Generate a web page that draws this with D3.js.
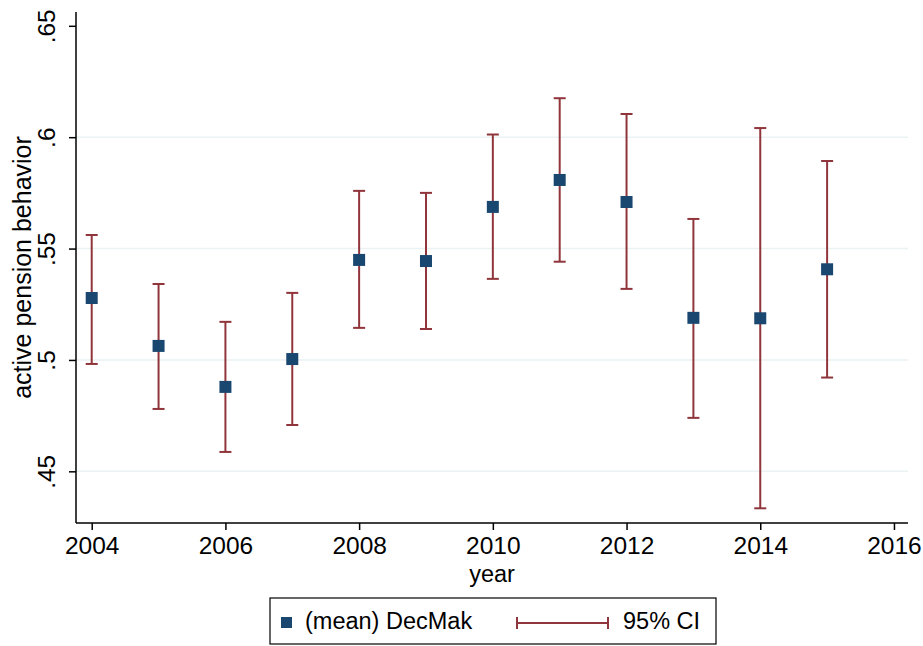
<!DOCTYPE html>
<html>
<head>
<meta charset="utf-8">
<script src="https://cdn.jsdelivr.net/npm/d3@7"></script>
<style>
  body { margin: 0; background: #fff; }
  text { font-family: "Liberation Sans", Arial, Helvetica, sans-serif; fill: #000; }
</style>
</head>
<body>
<script>
'use strict';

// data
const years = [2004, 2005, 2006, 2007, 2008, 2009, 2010, 2011, 2012, 2013, 2014, 2015];
const means = [0.5278, 0.5063, 0.4879, 0.5004, 0.5449, 0.5444, 0.5687, 0.5808, 0.5709, 0.5189, 0.5187, 0.5407];
const upper = [0.5561, 0.5341, 0.5171, 0.5301, 0.5759, 0.5750, 0.6012, 0.6175, 0.6104, 0.5633, 0.6041, 0.5893];
const lower = [0.4982, 0.4780, 0.4587, 0.4708, 0.5144, 0.5139, 0.5364, 0.5441, 0.5319, 0.4740, 0.4334, 0.4921];
const xTicks = [2004, 2006, 2008, 2010, 2012, 2014, 2016];
const yTicks = [0.45, 0.5, 0.55, 0.6, 0.65];

(function() {
    const W = 923, H = 646;
    const plot = { left: 76, right: 908, top: 12, bottom: 523 };
    const navy = '#1a476f', maroon = '#90353b';

    const svg = d3.select('body').append('svg')
        .attr('width', W)
        .attr('height', H);

    const x = d3.scaleLinear()
        .domain([2003.765, 2016.21])
        .range([plot.left, plot.right]);
    const y = d3.scaleLinear()
        .domain([0.4268, 0.6562])
        .range([plot.bottom, plot.top]);

    const rows = years.map((yr, i) => ({ year: yr, mean: means[i], lo: lower[i], hi: upper[i] }));

    // gridlines
    svg.append('g').selectAll('line')
        .data(yTicks.filter(t => t < 0.65))
        .enter().append('line')
        .attr('x1', plot.left).attr('x2', plot.right)
        .attr('y1', d => y(d)).attr('y2', d => y(d))
        .attr('stroke', '#eaf2f3').attr('stroke-width', 1.5);

    // y axis
    const yAxis = d3.axisLeft(y).tickValues(yTicks).tickSize(7)
        .tickFormat(d => d3.format('.2f')(d).replace(/^0/, '').replace(/0$/, ''));
    const gy = svg.append('g')
        .attr('transform', 'translate(' + plot.left + ',0)')
        .call(yAxis);
    gy.select('.domain').attr('d', 'M0,' + plot.top + 'V' + plot.bottom).attr('stroke', '#000').attr('stroke-width', 1.5);
    gy.selectAll('.tick line').attr('stroke', '#000').attr('stroke-width', 1.5);
    gy.selectAll('.tick text')
        .attr('x', null).attr('dy', null)
        .attr('transform', 'translate(-21,0) rotate(-90)')
        .attr('text-anchor', 'middle')
        .style('font-size', '24.5px');

    // x axis
    const xAxis = d3.axisBottom(x).tickValues(xTicks).tickSize(7).tickFormat(d3.format('d'));
    const gx = svg.append('g')
        .attr('transform', 'translate(0,' + plot.bottom + ')')
        .call(xAxis);
    gx.select('.domain').attr('d', 'M' + plot.left + ',0H' + plot.right).attr('stroke', '#000').attr('stroke-width', 1.5);
    gx.selectAll('.tick line').attr('stroke', '#000').attr('stroke-width', 1.5);
    gx.selectAll('.tick text')
        .attr('y', 31).attr('dy', null)
        .style('font-size', '24.5px');

    // axis titles
    svg.append('text')
        .attr('x', (plot.left + plot.right) / 2)
        .attr('y', 582)
        .attr('text-anchor', 'middle')
        .style('font-size', '23.5px')
        .text('year');
    svg.append('text')
        .attr('transform', 'translate(31,' + (plot.top + plot.bottom) / 2 + ') rotate(-90)')
        .attr('text-anchor', 'middle')
        .style('font-size', '25px')
        .text('active pension behavior');

    // CI spikes with caps
    const ci = svg.append('g').attr('stroke', maroon).attr('stroke-width', 2);
    ci.selectAll('.spike')
        .data(rows).enter().append('line')
        .attr('x1', d => x(d.year)).attr('x2', d => x(d.year))
        .attr('y1', d => y(d.lo)).attr('y2', d => y(d.hi));
    ci.selectAll('.caphi')
        .data(rows).enter().append('line')
        .attr('x1', d => x(d.year) - 6).attr('x2', d => x(d.year) + 6)
        .attr('y1', d => y(d.hi)).attr('y2', d => y(d.hi));
    ci.selectAll('.caplo')
        .data(rows).enter().append('line')
        .attr('x1', d => x(d.year) - 6).attr('x2', d => x(d.year) + 6)
        .attr('y1', d => y(d.lo)).attr('y2', d => y(d.lo));

    // mean markers
    svg.append('g').selectAll('rect')
        .data(rows).enter().append('rect')
        .attr('x', d => x(d.year) - 6)
        .attr('y', d => y(d.mean) - 6)
        .attr('width', 12).attr('height', 12)
        .attr('fill', navy);

    // legend
    const lg = svg.append('g');
    lg.append('rect')
        .attr('x', 270).attr('y', 598)
        .attr('width', 446).attr('height', 46)
        .attr('fill', '#fff').attr('stroke', '#000').attr('stroke-width', 1.2);
    lg.append('rect')
        .attr('x', 281).attr('y', 617).attr('width', 11).attr('height', 11)
        .attr('fill', navy);
    lg.append('text')
        .attr('x', 305).attr('y', 629)
        .style('font-size', '23.5px')
        .text('(mean) DecMak');
    lg.append('line')
        .attr('x1', 517).attr('x2', 608).attr('y1', 623).attr('y2', 623)
        .attr('stroke', maroon).attr('stroke-width', 2);
    lg.selectAll('.lcap')
        .data([517, 608]).enter().append('line')
        .attr('x1', d => d).attr('x2', d => d)
        .attr('y1', 617).attr('y2', 629)
        .attr('stroke', maroon).attr('stroke-width', 2);
    lg.append('text')
        .attr('x', 623).attr('y', 629)
        .style('font-size', '23.5px')
        .text('95% CI');
})();
</script>
</body>
</html>
